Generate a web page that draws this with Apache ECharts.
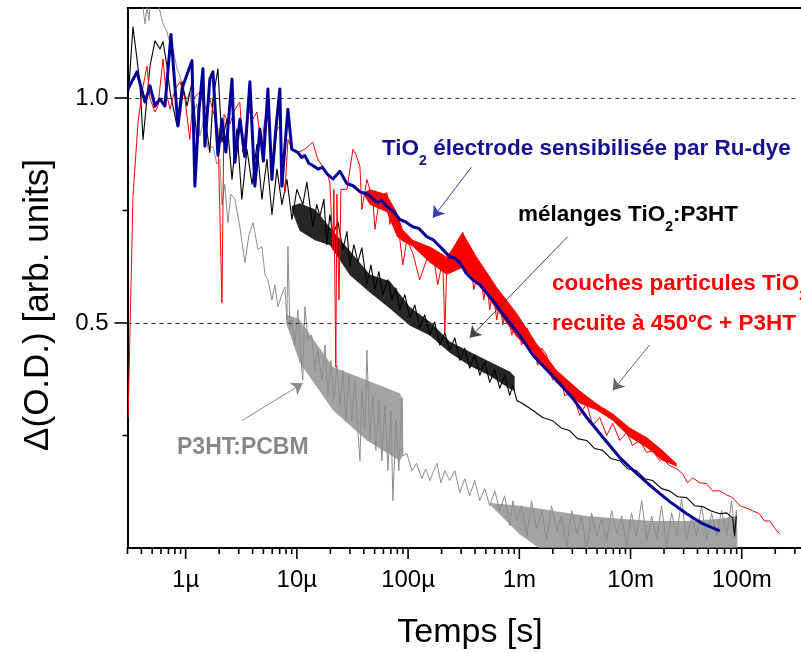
<!DOCTYPE html>
<html>
<head>
<meta charset="utf-8">
<script src="https://cdn.jsdelivr.net/npm/echarts@6/dist/echarts.min.js"></script>
<style>html,body{margin:0;padding:0;background:#fff;overflow:hidden;width:801px;height:653px}#c{width:801px;height:653px}</style>
</head>
<body>
<div id="c"></div>
<script>
// ---- data: [time (s), ΔO.D. (arb. units)] ----
const redTrace = [[3.04e-7,0.29],[3.16e-7,0.484],[3.36e-7,0.781],[3.73e-7,0.946],[4.05e-7,1.013],[4.49e-7,1.071],[4.78e-7,0.998],[5.30e-7,0.969],[5.64e-7,0.982],[6.26e-7,1.087],[6.66e-7,1.013],[7.24e-7,0.975],[8.03e-7,1.02],[8.90e-7,1.036],[9.86e-7,0.998],[1.09e-6,0.908],[1.16e-6,0.998],[1.34e-6,1.013],[1.49e-6,0.975],[1.65e-6,0.998],[1.95e-6,0.931],[2.12e-6,0.545],[2.21e-6,0.964],[2.50e-6,0.942],[2.77e-6,0.975],[3.07e-6,0.991],[3.27e-6,0.879],[3.63e-6,0.975],[4.03e-6,0.953],[4.37e-6,0.969],[4.85e-6,0.886],[5.06e-6,0.938],[5.38e-6,0.975],[5.73e-6,0.908],[6.09e-6,0.848],[6.62e-6,0.931],[7.04e-6,0.938],[7.49e-6,0.83],[7.81e-6,0.79],[8.31e-6,0.908],[9.03e-6,0.886],[1.02e-5,0.879],[1.18e-5,0.886],[1.39e-5,0.902],[1.54e-5,0.864],[1.86e-5,0.835],[1.98e-5,0.813],[2.11e-5,0.663],[2.15e-5,0.797],[2.24e-5,0.402],[2.29e-5,0.786],[2.39e-5,0.551],[2.49e-5,0.797],[2.82e-5,0.797],[3.19e-5,0.886],[3.39e-5,0.875],[3.69e-5,0.848],[3.84e-5,0.752],[4.26e-5,0.819],[4.82e-5,0.775],[5.03e-5,0.708],[5.57e-5,0.781],[6.44e-5,0.79],[6.86e-5,0.719],[7.30e-5,0.759],[7.93e-5,0.708],[8.43e-5,0.685],[8.97e-5,0.629],[9.75e-5,0.685],[1.10e-4,0.656],[1.27e-4,0.596],[1.47e-4,0.641],[1.67e-4,0.656],[1.85e-4,0.585],[2.05e-4,0.641],[2.14e-4,0.478],[2.23e-4,0.636],[2.52e-4,0.663],[2.92e-4,0.692],[3.10e-4,0.701],[3.30e-4,0.618],[3.58e-4,0.67],[3.89e-4,0.574],[4.41e-4,0.625],[4.79e-4,0.551],[5.09e-4,0.596],[5.42e-4,0.529],[5.77e-4,0.574],[6.27e-4,0.507],[6.67e-4,0.551],[7.10e-4,0.496],[7.71e-4,0.536],[8.56e-4,0.473],[9.49e-4,0.507],[1.05e-3,0.451],[1.17e-3,0.489],[1.32e-3,0.462],[1.46e-3,0.406],[1.59e-3,0.444],[1.76e-3,0.429],[1.99e-3,0.373],[2.31e-3,0.384],[2.56e-3,0.339],[3.02e-3,0.344],[3.49e-3,0.295],[4.03e-3,0.321],[4.57e-3,0.272],[5.28e-3,0.29],[6.11e-3,0.25],[6.92e-3,0.277],[8.01e-3,0.239],[9.24e-3,0.257],[1.04e-2,0.228],[1.21e-2,0.239],[1.40e-2,0.212],[1.58e-2,0.217],[1.83e-2,0.194],[1.94e-2,0.199],[2.24e-2,0.183],[2.60e-2,0.176],[2.94e-2,0.165],[3.26e-2,0.145],[3.62e-2,0.156],[4.18e-2,0.145],[4.83e-2,0.143],[5.47e-2,0.127],[6.33e-2,0.127],[7.31e-2,0.118],[8.28e-2,0.112],[9.57e-2,0.094],[1.10e-1,0.089],[1.25e-1,0.083],[1.44e-1,0.076],[1.60e-1,0.06],[1.78e-1,0.06],[1.97e-1,0.045],[2.19e-1,0.031]];

const blackTrace = [[3.04e-7,0.998],[3.36e-7,1.158],[3.65e-7,1.087],[3.89e-7,1.027],[4.14e-7,0.908],[4.42e-7,0.982],[4.78e-7,1.071],[5.30e-7,1.127],[5.88e-7,1.109],[6.26e-7,1.125],[6.79e-7,1.071],[7.24e-7,1.013],[8.36e-7,0.938],[9.28e-7,1.036],[1.03e-6,0.982],[1.14e-6,1.036],[1.26e-6,0.908],[1.40e-6,1.042],[1.49e-6,0.96],[1.65e-6,0.879],[1.76e-6,0.998],[1.95e-6,1.065],[2.12e-6,0.902],[2.35e-6,0.953],[2.61e-6,0.819],[2.89e-6,0.931],[3.20e-6,0.775],[3.56e-6,0.886],[3.95e-6,0.808],[4.37e-6,0.897],[4.85e-6,0.775],[5.38e-6,0.864],[5.97e-6,0.741],[6.62e-6,0.842],[7.34e-6,0.763],[8.14e-6,0.819],[9.03e-6,0.73],[1.0e-5,0.797],[1.13e-5,0.763],[1.23e-5,0.813],[1.39e-5,0.714],[1.51e-5,0.763],[1.61e-5,0.737],[1.75e-5,0.775],[1.86e-5,0.674],[1.98e-5,0.741],[2.11e-5,0.696],[2.34e-5,0.725],[2.59e-5,0.663],[2.82e-5,0.703],[3.00e-5,0.625],[3.25e-5,0.674],[3.54e-5,0.636],[3.84e-5,0.667],[4.26e-5,0.585],[4.63e-5,0.629],[5.03e-5,0.574],[5.46e-5,0.614],[5.93e-5,0.563],[6.58e-5,0.596],[7.15e-5,0.551],[7.76e-5,0.578],[8.43e-5,0.529],[9.35e-5,0.563],[1.04e-4,0.511],[1.15e-4,0.54],[1.27e-4,0.489],[1.41e-4,0.518],[1.57e-4,0.473],[1.73e-4,0.502],[1.93e-4,0.451],[2.14e-4,0.478],[2.37e-4,0.44],[2.63e-4,0.467],[2.92e-4,0.417],[3.23e-4,0.444],[3.58e-4,0.4],[3.97e-4,0.429],[4.41e-4,0.384],[4.89e-4,0.413],[5.42e-4,0.368],[6.02e-4,0.395],[6.67e-4,0.355],[7.39e-4,0.384],[8.20e-4,0.339],[8.75e-4,0.362],[9.49e-4,0.328],[1.07e-3,0.321],[1.32e-3,0.306],[1.62e-3,0.29],[1.99e-3,0.283],[2.40e-3,0.266],[2.83e-3,0.261],[3.34e-3,0.243],[4.03e-3,0.239],[4.76e-3,0.221],[5.62e-3,0.217],[6.64e-3,0.199],[8.01e-3,0.194],[9.44e-3,0.176],[1.13e-2,0.172],[1.34e-2,0.154],[1.58e-2,0.15],[1.90e-2,0.132],[2.24e-2,0.127],[2.65e-2,0.114],[3.19e-2,0.112],[3.77e-2,0.094],[4.45e-2,0.092],[5.25e-2,0.083],[6.33e-2,0.076],[7.31e-2,0.078],[8.28e-2,0.067],[8.62e-2,0.027],[8.93e-2,0.071]];

const blueTrace = [[3.03e-7,1.02],[3.65e-7,1.058],[4.31e-7,0.991],[4.78e-7,1.027],[5.30e-7,0.982],[5.87e-7,0.998],[6.51e-7,0.982],[7.38e-7,1.141],[8.53e-7,0.938],[9.46e-7,1.027],[1.14e-6,1.083],[1.21e-6,0.804],[1.32e-6,0.975],[1.43e-6,1.065],[1.49e-6,0.893],[1.65e-6,1.042],[1.76e-6,1.058],[1.95e-6,0.873],[2.12e-6,0.953],[2.30e-6,0.88],[2.61e-6,1.042],[2.77e-6,0.857],[3.08e-6,0.953],[3.40e-6,0.87],[3.78e-6,1.036],[4.19e-6,0.804],[4.65e-6,0.931],[5.00e-6,0.86],[5.49e-6,1.02],[5.96e-6,0.819],[6.47e-6,0.931],[7.03e-6,1.02],[7.32e-6,0.804],[8.30e-6,0.975],[9.01e-6,0.886],[1.02e-5,0.879],[1.10e-5,0.868],[1.18e-5,0.872],[1.28e-5,0.855],[1.39e-5,0.85],[1.55e-5,0.842],[1.70e-5,0.846],[1.86e-5,0.832],[2.11e-5,0.82],[2.44e-5,0.837],[2.81e-5,0.81],[3.20e-5,0.805],[3.68e-5,0.792],[4.40e-5,0.785],[5.24e-5,0.768],[5.80e-5,0.772],[6.44e-5,0.759],[7.40e-5,0.748],[8.42e-5,0.73],[9.60e-5,0.724],[1.10e-4,0.714],[1.25e-4,0.71],[1.47e-4,0.692],[1.70e-4,0.684],[1.93e-4,0.67],[2.37e-4,0.647],[2.60e-4,0.645],[2.92e-4,0.634],[3.30e-4,0.612],[3.81e-4,0.596],[4.40e-4,0.585],[5.09e-4,0.567],[5.80e-4,0.55],[6.67e-4,0.529],[8.20e-4,0.5],[1.01e-3,0.473],[1.32e-3,0.429],[1.70e-3,0.4],[2.17e-3,0.373],[3.02e-3,0.333],[4.04e-3,0.29],[5.63e-3,0.246],[8.00e-3,0.201],[1.14e-2,0.165],[1.58e-2,0.134],[2.25e-2,0.103],[3.20e-2,0.076],[4.45e-2,0.054],[6.34e-2,0.038]];

const greyTrace = [[3.04e-7,1.31],[3.89e-7,1.243],[4.14e-7,1.199],[4.31e-7,1.165],[4.49e-7,1.203],[4.68e-7,1.172],[4.99e-7,1.266],[5.64e-7,1.21],[6.26e-7,1.165],[6.79e-7,1.147],[7.24e-7,1.121],[7.71e-7,1.109],[8.36e-7,1.065],[8.90e-7,1.049],[9.67e-7,1.009],[1.03e-6,0.998],[1.09e-6,1.013],[1.16e-6,0.964],[1.26e-6,0.987],[1.34e-6,0.915],[1.46e-6,0.953],[1.59e-6,0.886],[1.76e-6,0.893],[1.91e-6,0.853],[2.03e-6,0.864],[2.12e-6,0.763],[2.25e-6,0.808],[2.40e-6,0.723],[2.55e-6,0.786],[2.77e-6,0.775],[3.07e-6,0.714],[3.41e-6,0.634],[3.71e-6,0.696],[4.03e-6,0.723],[4.47e-6,0.663],[4.85e-6,0.67],[5.17e-6,0.607],[5.50e-6,0.596],[5.96e-6,0.551],[6.33e-6,0.585],[6.75e-6,0.536],[7.32e-6,0.563],[7.81e-6,0.58],[8.14e-6,0.507],[8.31e-6,0.67],[8.66e-6,0.484],[9.03e-6,0.507],[9.59e-6,0.451],[1.02e-5,0.529],[1.09e-5,0.417],[1.13e-5,0.373],[1.18e-5,0.536],[1.26e-5,0.462],[1.36e-5,0.473],[1.45e-5,0.395],[1.54e-5,0.44],[1.68e-5,0.373],[1.79e-5,0.451],[1.90e-5,0.339],[2.02e-5,0.417],[2.15e-5,0.328],[2.29e-5,0.406],[2.44e-5,0.317],[2.59e-5,0.395],[2.76e-5,0.283],[2.93e-5,0.384],[3.12e-5,0.283],[3.32e-5,0.373],[3.54e-5,0.261],[3.69e-5,0.194],[3.84e-5,0.35],[4.09e-5,0.261],[4.26e-5,0.44],[4.53e-5,0.239],[4.82e-5,0.339],[5.13e-5,0.217],[5.46e-5,0.328],[5.81e-5,0.194],[6.18e-5,0.317],[6.58e-5,0.172],[7.00e-5,0.306],[7.30e-5,0.105],[7.76e-5,0.283],[8.26e-5,0.172],[8.79e-5,0.335],[8.97e-5,0.205],[9.75e-5,0.21],[1.08e-4,0.172],[1.19e-4,0.188],[1.33e-4,0.154],[1.44e-4,0.176],[1.57e-4,0.15],[1.70e-4,0.172],[1.82e-4,0.188],[1.97e-4,0.145],[2.14e-4,0.172],[2.37e-4,0.15],[2.63e-4,0.172],[2.92e-4,0.123],[3.23e-4,0.154],[3.58e-4,0.116],[3.97e-4,0.15],[4.41e-4,0.105],[4.89e-4,0.132],[5.42e-4,0.094],[6.02e-4,0.127],[6.67e-4,0.083],[7.39e-4,0.116],[8.20e-4,0.049],[8.75e-4,0.105],[9.49e-4,0.06],[1.05e-3,0.094],[1.17e-3,0.027],[1.29e-3,0.105],[1.43e-3,0.042],[1.59e-3,0.083],[1.76e-3,0.016],[1.95e-3,0.094],[2.17e-3,0.038],[2.40e-3,0.071],[2.67e-3,0.004],[2.96e-3,0.083],[3.28e-3,0.033],[3.64e-3,0.071],[4.03e-3,-0.01],[4.47e-3,0.078],[4.96e-3,0.027],[5.50e-3,0.065],[6.11e-3,0.016],[6.77e-3,0.083],[7.51e-3,0.033],[8.33e-3,0.071],[9.24e-3,0.004],[1.02e-2,0.078],[1.13e-2,0.027],[1.26e-2,0.105],[1.40e-2,0.016],[1.55e-2,0.071],[1.72e-2,0.02],[1.90e-2,0.094],[2.11e-2,0.004],[2.34e-2,0.078],[2.60e-2,0.027],[2.88e-2,0.109],[3.19e-2,0.016],[3.54e-2,0.071],[3.92e-2,0.027],[4.35e-2,0.094],[4.83e-2,0.016],[5.36e-2,0.078],[5.94e-2,0.027],[6.59e-2,0.083],[7.31e-2,0.027],[8.10e-2,0.105],[8.62e-2,0.038],[8.93e-2,0.083],[9.10e-2,-0.03]];

// dense-noise envelopes: [time, lower, upper]
const redBand = [[4.0e-5,0.785,0.79],[4.53e-5,0.763,0.797],[6.44e-5,0.746,0.786],[7.93e-5,0.692,0.746],[8.97e-5,0.681,0.708],[1.10e-4,0.670,0.685],[1.57e-4,0.634,0.670],[2.23e-4,0.607,0.647],[3.10e-4,0.623,0.701],[4.14e-4,0.592,0.647],[6.27e-4,0.529,0.580],[9.49e-4,0.469,0.522],[1.43e-3,0.424,0.455],[2.17e-3,0.366,0.395],[3.49e-3,0.321,0.350],[4.96e-3,0.306,0.321],[6.92e-3,0.283,0.299],[9.81e-3,0.246,0.268],[1.40e-2,0.223,0.246],[1.94e-2,0.194,0.217],[2.60e-2,0.181,0.188]];
const blackBand = [[9.0e-6,0.75,0.76],[1.06e-5,0.705,0.766],[1.45e-5,0.684,0.753],[1.98e-5,0.673,0.713],[3.00e-5,0.606,0.660],[4.53e-5,0.568,0.608],[6.86e-5,0.532,0.593],[1.04e-4,0.494,0.535],[1.57e-4,0.472,0.503],[2.37e-4,0.434,0.459],[3.58e-4,0.405,0.436],[5.42e-4,0.383,0.414],[8.20e-4,0.354,0.392],[9.08e-4,0.349,0.381]];
const greyBand1 = [[8.0e-6,0.50,0.52],[1.06e-5,0.412,0.507],[2.11e-5,0.306,0.402],[4.26e-5,0.239,0.373],[8.43e-5,0.194,0.344],[8.97e-5,0.205,0.328]];
const greyBand2 = [[5.5e-4,0.095,0.10],[1.01e-3,0.03,0.094],[1.5e-3,0.0,0.088],[1.99e-3,0.0,0.083],[4.03e-3,0.0,0.071],[8.01e-3,0.0,0.065],[1.58e-2,0.0,0.06],[3.19e-2,0.0,0.06],[6.33e-2,0.0,0.065],[8.93e-2,0.0,0.071]];

// axis ticks / labels
const xMajorTicks = [1e-6, 1e-5, 1e-4, 1e-3, 1e-2, 1e-1];
const xTickLabels = ['1µ', '10µ', '100µ', '1m', '10m', '100m'];
const xMinorTicks = [3e-7,4e-7,5e-7,6e-7,7e-7,8e-7,9e-7,
  2e-6,3e-6,4e-6,5e-6,6e-6,7e-6,8e-6,9e-6,
  2e-5,3e-5,4e-5,5e-5,6e-5,7e-5,8e-5,9e-5,
  2e-4,3e-4,4e-4,5e-4,6e-4,7e-4,8e-4,9e-4,
  2e-3,3e-3,4e-3,5e-3,6e-3,7e-3,8e-3,9e-3,
  2e-2,3e-2,4e-2,5e-2,6e-2,7e-2,8e-2,9e-2,
  2e-1,3e-1,4e-1];
const yMajorTicks = [0.5, 1.0];
const yMinorTicks = [0.25, 0.75];
const refLines = [0.5, 1.0];

// annotation arrows (data coordinates: from -> to)
const arrows = [
  {from: [3.70e-4, 0.846], to: [1.67e-4, 0.734], color: '#3a3ab8'},
  {from: [2.72e-3, 0.692], to: [3.58e-4, 0.467], color: '#444444'},
  {from: [1.48e-2, 0.451], to: [6.92e-3, 0.350], color: '#666666'},
  {from: [3.20e-6, 0.283], to: [1.13e-5, 0.366], color: '#8a8a8a'}
];

const X_MIN = 3e-7, X_MAX = 0.5, Y_MIN = 0, Y_MAX = 1.2;
const FONT = "'Liberation Sans', Arial, Helvetica, sans-serif";

const chart = echarts.init(document.getElementById('c'), null, {renderer: 'canvas'});

const tickData = [];
xMajorTicks.forEach(t => tickData.push([t, Y_MIN, 11, 0]));
xMinorTicks.forEach(t => tickData.push([t, Y_MIN, 6, 0]));
yMajorTicks.forEach(v => tickData.push([X_MIN, v, 13, 1]));
yMinorTicks.forEach(v => tickData.push([X_MIN, v, 5, 1]));

function isDecade(v) {
  const e = Math.log10(v);
  return Math.abs(e - Math.round(e)) < 1e-6;
}

// text labels with real subscripts: parts laid out left to right
const measureCtx = document.createElement('canvas').getContext('2d');
function labelEls(x, y, parts, color, size, bg) {
  const els = [];
  let cx = x;
  parts.forEach(p => {
    const sub = p[1] === 'sub';
    const fs = sub ? 14 : size;
    const font = 'bold ' + fs + 'px ' + FONT;
    measureCtx.font = font;
    const st = {text: p[0], font: font, fill: color,
                textAlign: 'left', align: 'left', textVerticalAlign: 'middle', verticalAlign: 'middle'};
    if (bg) st.backgroundColor = bg;
    els.push({type: 'text', x: cx, y: sub ? y + 12 : y, z: 100, style: st});
    cx += measureCtx.measureText(p[0]).width;
  });
  return els;
}

function bandSeries(name, band, color, z, opacity) {
  return {
    type: 'custom', name: name, data: band, clip: true, silent: true, z: z, animation: false,
    renderItem: function (params, api) {
      if (params.dataIndex !== 0) return null;
      const pts = [];
      band.forEach(b => pts.push(api.coord([b[0], b[2]])));
      for (let i = band.length - 1; i >= 0; i--) pts.push(api.coord([band[i][0], band[i][1]]));
      return {type: 'polygon', shape: {points: pts}, style: {fill: color, opacity: opacity}};
    }
  };
}

const lineBase = {type: 'line', showSymbol: false, symbol: 'none', animation: false,
  silent: true, clip: true, sampling: null};

function frameLine() { return {show: true, onZero: false, lineStyle: {color: '#000', width: 2}}; }

const option = {
  animation: false,
  backgroundColor: '#ffffff',
  grid: {left: 127.5, top: 8, width: 692, height: 540, show: false, containLabel: false,
         outerBoundsMode: 'none'},
  xAxis: [{
    type: 'log', logBase: 10, min: X_MIN, max: X_MAX, position: 'bottom',
    axisLine: frameLine(), axisTick: {show: false}, splitLine: {show: false},
    minorTick: {show: false},
    axisLabel: {
      margin: 20, fontSize: 24, fontFamily: FONT, color: '#000',
      formatter: function (v) {
        if (!isDecade(v)) return '';
        const i = xMajorTicks.findIndex(t => Math.abs(Math.log10(t) - Math.log10(v)) < 1e-6);
        return i >= 0 ? xTickLabels[i] : '';
      }
    }
  }, {
    type: 'log', logBase: 10, min: X_MIN, max: X_MAX, position: 'top',
    axisLine: frameLine(), axisTick: {show: false}, splitLine: {show: false},
    axisLabel: {show: false}
  }],
  yAxis: {
    type: 'value', min: Y_MIN, max: Y_MAX, interval: 0.5,
    axisLine: frameLine(), axisTick: {show: false}, splitLine: {show: false},
    axisLabel: {
      margin: 19, fontSize: 24, fontFamily: FONT, color: '#000',
      formatter: function (v) {
        return yMajorTicks.some(m => Math.abs(m - v) < 1e-9) ? v.toFixed(1) : '';
      }
    }
  },
  series: [
    Object.assign({}, lineBase, {
      name: 'ref', data: [], z: 1,
      markLine: {
        silent: true, symbol: ['none', 'none'], animation: false,
        label: {show: false},
        lineStyle: {type: [4, 4], color: '#333', width: 1},
        data: refLines.map(v => ({yAxis: v}))
      }
    }),
    bandSeries('grey band 1', greyBand1, '#8c8c8c', 2, 0.8),
    bandSeries('grey band 2', greyBand2, '#8c8c8c', 2, 0.8),
    Object.assign({}, lineBase, {
      name: 'P3HT:PCBM', data: greyTrace, z: 2,
      lineStyle: {color: '#8c8c8c', width: 1, join: 'round'}
    }),
    bandSeries('black band', blackBand, '#000000', 3, 0.85),
    Object.assign({}, lineBase, {
      name: 'mélanges TiO2:P3HT', data: blackTrace, z: 3,
      lineStyle: {color: '#000000', width: 1.1, join: 'round'}
    }),
    bandSeries('red band', redBand, '#ff0000', 4, 1),
    Object.assign({}, lineBase, {
      name: 'couches particules TiO2', data: redTrace, z: 4,
      lineStyle: {color: '#ff0000', width: 1, join: 'round'}
    }),
    Object.assign({}, lineBase, {
      name: 'TiO2 électrode', data: blueTrace, z: 5,
      lineStyle: {color: '#000099', width: 3, join: 'round'}
    }),
    Object.assign({}, lineBase, {
      name: 'arrows', data: [], z: 6,
      markLine: {
        silent: true, animation: false, symbol: ['none', 'arrow'], symbolSize: 11,
        label: {show: false},
        data: arrows.map(a => [
          {coord: a.from, lineStyle: {color: a.color, width: 1, type: 'solid'}, itemStyle: {color: a.color}},
          {coord: a.to}
        ])
      }
    }),
    {
      type: 'custom', name: 'ticks', data: tickData, clip: false, silent: true, z: 10,
      animation: false,
      renderItem: function (params, api) {
        const p = api.coord([api.value(0), api.value(1)]);
        const len = api.value(2);
        const isY = api.value(3) === 1;
        const shape = isY
          ? {x1: p[0] - len, y1: p[1], x2: p[0], y2: p[1]}
          : {x1: p[0], y1: p[1], x2: p[0], y2: p[1] + len};
        return {type: 'line', shape: shape, style: {stroke: '#000', lineWidth: 1.6}};
      }
    }
  ],
  graphic: [].concat(
    [{type: 'rect', z: 99, silent: true, shape: {x: 795.5, y: 10, width: 7, height: 536}, style: {fill: '#ffffff'}}],
    labelEls(382, 149, [['TiO'], ['2', 'sub'], [' électrode sensibilisée par Ru-dye']], '#13138f', 22.5),
    labelEls(518, 215, [['mélanges TiO'], ['2', 'sub'], [':P3HT']], '#000000', 22.5),
    labelEls(552, 284, [['couches particules TiO'], ['2', 'sub']], '#ff0000', 22.5),
    labelEls(552, 324, [['recuite à 450ºC + P3HT']], '#ff0000', 22.5, '#ffffff'),
    labelEls(177, 448, [['P3HT:PCBM']], '#888888', 23),
    [{
      type: 'text', x: 470, y: 633, z: 100,
      style: {text: 'Temps [s]', fontSize: 34, fontFamily: FONT, fill: '#000',
              textAlign: 'center', align: 'center', textVerticalAlign: 'middle', verticalAlign: 'middle'}
    },
    {
      type: 'text', x: 38, y: 305, rotation: Math.PI / 2, z: 100,
      style: {text: 'Δ(O.D.) [arb. units]', fontSize: 35, fontFamily: FONT, fill: '#000',
              textAlign: 'center', align: 'center', textVerticalAlign: 'middle', verticalAlign: 'middle'}
    }]
  )
};

chart.setOption(option);
</script>
</body>
</html>
